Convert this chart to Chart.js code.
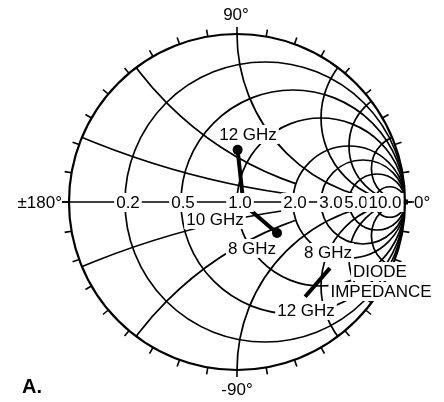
<!DOCTYPE html>
<html>
<head>
<meta charset="utf-8">
<script src="https://cdn.jsdelivr.net/npm/chart.js@4"></script>
<style>
  html, body { margin: 0; padding: 0; background: #fff; }
  canvas { display: block; }
</style>
</head>
<body>
<canvas id="smith" width="444" height="402"></canvas>
<script>
// normalised impedance
const matchFreqs = ["12 GHz", "10 GHz", "8 GHz"];
const matchR = [0.83, 1.08, 1.48];
const matchX = [0.57, -0.03, -0.60];

const diodeFreqs = ["8 GHz", "12 GHz"];
const diodeR = [1.52, 0.77];
const diodeX = [-2.22, -1.68];

// grid circles
const resistances = [0.2, 0.5, 1, 2, 3, 5, 10];
const reactances = [0.2, 0.5, 1, 2, 3, 5];
// reactance arcs stop at this resistance circle (0 = run to the edge)
const reactanceStop = [2, 2, 10, 10, 0, 0];
const rLabels = ["0.2", "0.5", "1.0", "2.0", "3.0", "5.0", "10.0"];

const FONT = "17px 'Liberation Sans', Arial, sans-serif";

// z -> reflection coefficient
function gamma(r, x) {
  let d = (r + 1) * (r + 1) + x * x;
  return { x: (r * r + x * x - 1) / d, y: 2 * x / d };
}

let matchPts = matchR.map((r, i) => gamma(r, matchX[i]));
let diodePts = diodeR.map((r, i) => gamma(r, diodeX[i]));

function boxText(ctx, txt, x, y, align) {
  ctx.font = FONT;
  let w = ctx.measureText(txt).width;
  let left = align === "left" ? x : x - w / 2;
  ctx.fillStyle = "#fff";
  ctx.fillRect(left - 2, y - 9, w + 4, 19);
  ctx.fillStyle = "#000";
  ctx.textAlign = "left";
  ctx.textBaseline = "alphabetic";
  ctx.fillText(txt, left, y + 6);
}

const smithGrid = {
  id: "smithGrid",
  beforeDatasetsDraw(chart) {
    let ctx = chart.ctx;
    let xs = chart.scales.x, ys = chart.scales.y;
    let cx = xs.getPixelForValue(0), cy = ys.getPixelForValue(0);
    let R = xs.getPixelForValue(1) - cx;
    ctx.save();
    ctx.strokeStyle = "#000";
    ctx.lineWidth = 1.7;

    ctx.save();
    ctx.beginPath();
    ctx.arc(cx, cy, R, 0, Math.PI * 2);
    ctx.clip();
    resistances.forEach(r => {
      ctx.beginPath();
      ctx.arc(xs.getPixelForValue(r / (r + 1)), cy, R / (r + 1), 0, Math.PI * 2);
      ctx.stroke();
    });
    reactances.forEach((x, i) => {
      ctx.save();
      let stop = reactanceStop[i];
      if (stop) {
        ctx.beginPath();
        ctx.rect(0, 0, chart.width, chart.height);
        ctx.arc(xs.getPixelForValue(stop / (stop + 1)), cy, R / (stop + 1), 0, Math.PI * 2);
        ctx.clip("evenodd");
      }
      [1, -1].forEach(s => {
        ctx.beginPath();
        ctx.arc(cx + R, ys.getPixelForValue(s / x), R / x, 0, Math.PI * 2);
        ctx.stroke();
      });
      ctx.restore();
    });
    ctx.restore();

    // real axis
    ctx.beginPath();
    ctx.moveTo(cx - R - 7, cy);
    ctx.lineTo(cx + R + 9, cy);
    ctx.stroke();

    // outer circle
    ctx.lineWidth = 2.2;
    ctx.beginPath();
    ctx.arc(cx, cy, R, 0, Math.PI * 2);
    ctx.stroke();

    // angle ticks every 10 deg
    ctx.lineWidth = 1.6;
    for (let a = 0; a < 360; a += 10) {
      let t = a * Math.PI / 180;
      ctx.beginPath();
      ctx.moveTo(cx + R * Math.cos(t), cy - R * Math.sin(t));
      ctx.lineTo(cx + (R + 7) * Math.cos(t), cy - (R + 7) * Math.sin(t));
      ctx.stroke();
    }
    ctx.fillStyle = "#000";
    ctx.fillRect(cx + R - 2, cy - 2.5, 5, 5);
    ctx.restore();
  },
  afterDatasetsDraw(chart) {
    let ctx = chart.ctx;
    ctx.save();
    // resistance labels on the axis
    let lx = [128, 183, 240, 295, 331, 356, 385];
    rLabels.forEach((t, i) => boxText(ctx, t, lx[i], 202));

    boxText(ctx, matchFreqs[0], 248, 134);
    boxText(ctx, matchFreqs[1], 215, 219);
    boxText(ctx, matchFreqs[2], 252, 248);
    boxText(ctx, diodeFreqs[0], 328, 252);
    boxText(ctx, diodeFreqs[1], 306, 310);
    boxText(ctx, "DIODE", 380, 271);
    boxText(ctx, "IMPEDANCE", 381, 291);

    ctx.font = FONT;
    ctx.fillStyle = "#000";
    ctx.textBaseline = "alphabetic";
    ctx.textAlign = "center";
    ctx.fillText("90°", 236, 20);
    ctx.fillText("-90°", 237, 395);
    ctx.textAlign = "right";
    ctx.fillText("±180°", 62, 208);
    ctx.textAlign = "left";
    ctx.fillText("0°", 414, 208);

    ctx.font = "bold 20px 'Liberation Sans', Arial, sans-serif";
    ctx.fillText("A.", 22, 393);
    ctx.restore();
  }
};

new Chart(document.getElementById("smith"), {
  type: "scatter",
  data: {
    datasets: [
      {
        data: matchPts,
        showLine: true,
        borderColor: "#000",
        backgroundColor: "#000",
        borderWidth: 4,
        pointRadius: [5, 0, 5],
        pointBorderWidth: 0,
        tension: 0
      },
      {
        data: diodePts,
        showLine: true,
        borderColor: "#000",
        borderWidth: 4,
        pointRadius: 0,
        tension: 0
      }
    ]
  },
  options: {
    responsive: false,
    animation: false,
    devicePixelRatio: 1,
    layout: { padding: { left: 69, right: 39, top: 34, bottom: 32 } },
    scales: {
      x: { type: "linear", min: -1, max: 1, display: false },
      y: { type: "linear", min: -1, max: 1, display: false }
    },
    plugins: {
      legend: { display: false },
      tooltip: { enabled: false }
    }
  },
  plugins: [smithGrid]
});
</script>
</body>
</html>
